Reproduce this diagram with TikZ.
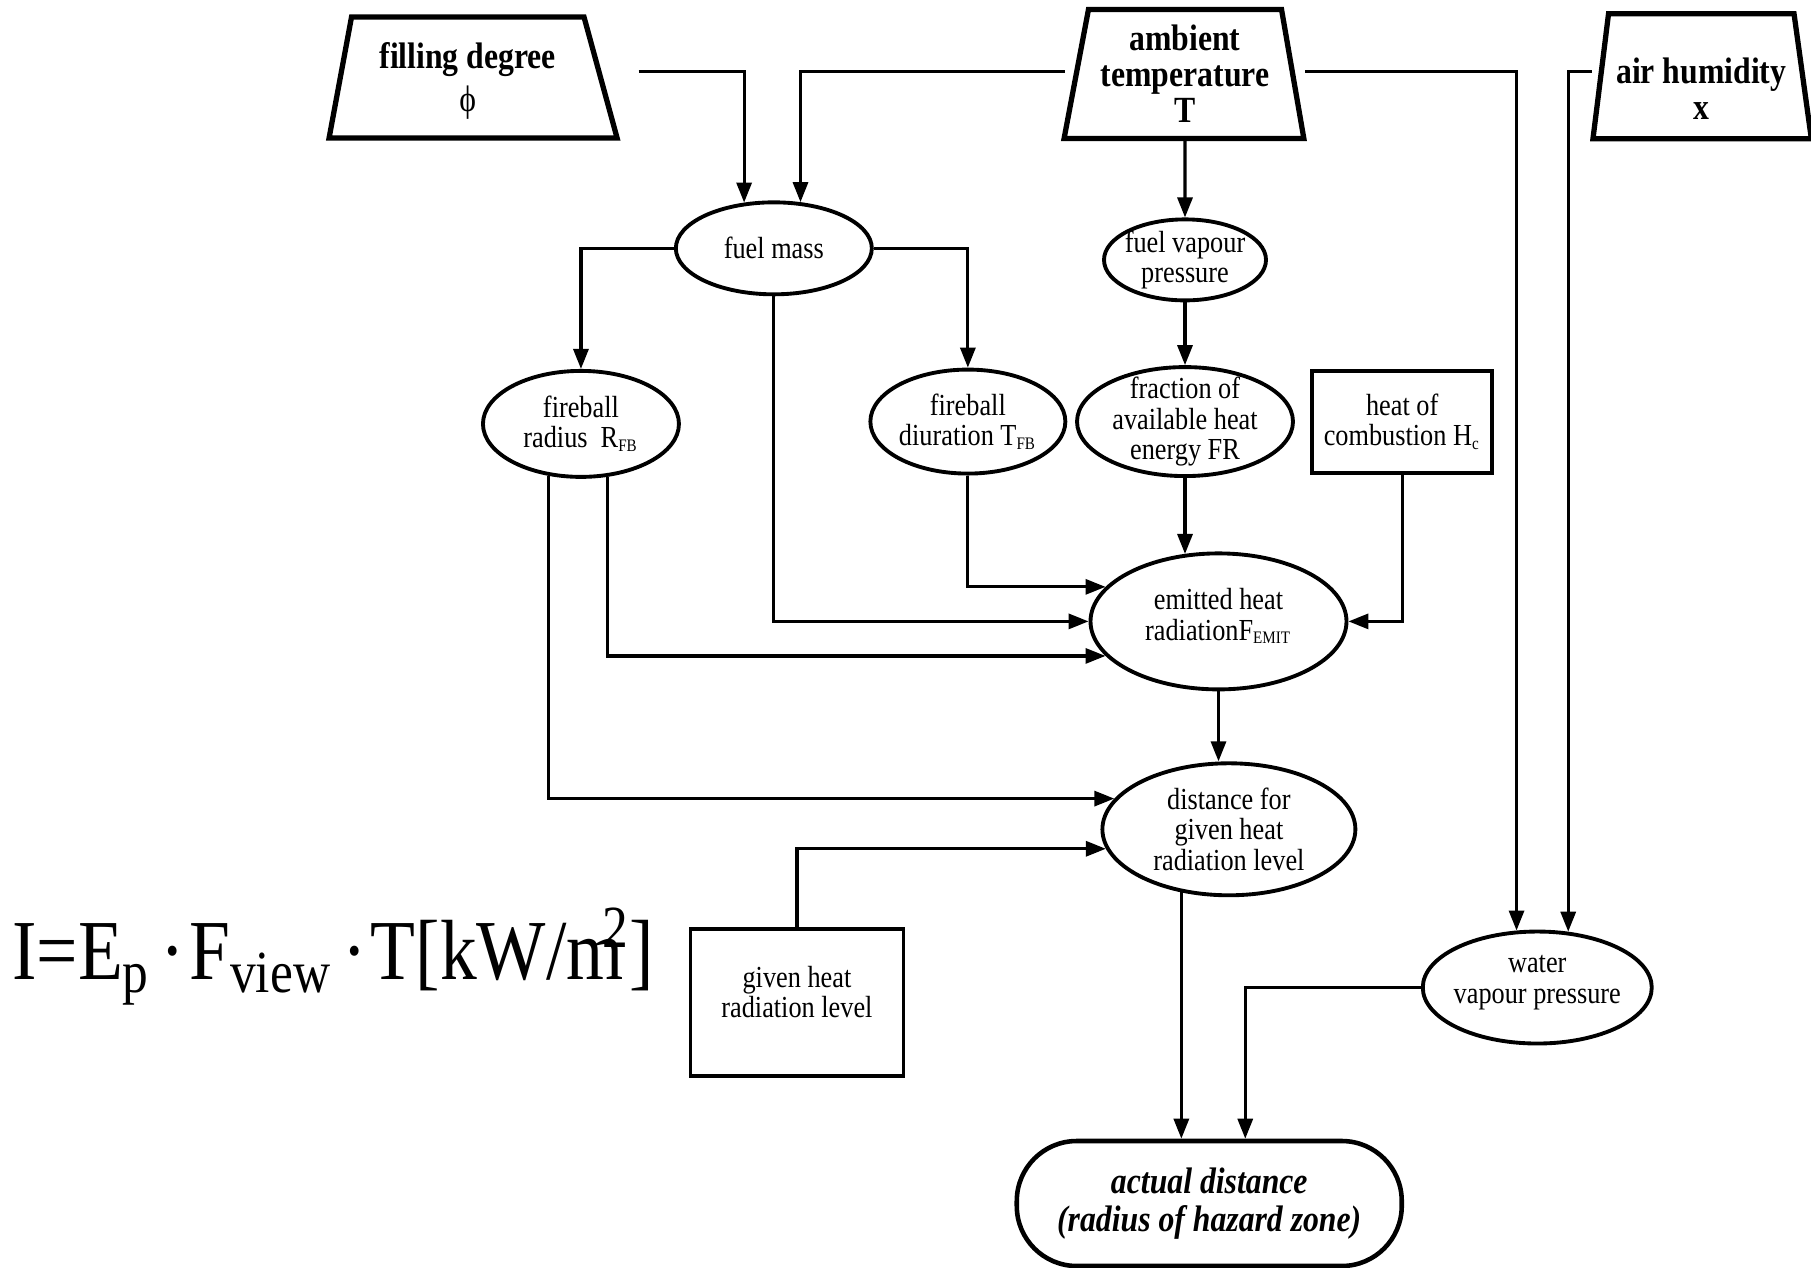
\documentclass[tikz,border=0pt]{standalone}
\usepackage{fontspec}
\setmainfont{Liberation Serif}[FakeStretch=0.86]
\usetikzlibrary{arrows.meta, shapes.geometric}

\begin{document}
\begin{tikzpicture}[x=0.01155cm, y=-0.01155cm, >={Triangle[length=2mm, width=1.5mm]},
    link/.style={->, line width=0.9pt},
    proc/.style={ellipse, draw, line width=1.1pt, inner sep=-3pt, align=center, font=\fontsize{8.7}{8.6}\selectfont},
    infobox/.style={rectangle, draw, line width=1.1pt, align=center, font=\fontsize{8.7}{8.6}\selectfont},
    inputbox/.style={trapezium, trapezium stretches=true, draw, line width=1.5pt, inner sep=1pt, align=center, font=\bfseries\fontsize{10.5}{10.2}\selectfont},
    outcome/.style={rectangle, rounded corners=0.6cm, draw, line width=1.3pt, align=center, font=\bfseries\itshape\fontsize{10.5}{10.8}\selectfont}]
    \useasboundingbox (0, 0) rectangle (1568, 1097);

    \node (filling) [inputbox, trapezium left angle=79, trapezium right angle=74, minimum width=2.89cm, minimum height=1.21cm] at (405, 67) {\rule{0pt}{9.5pt}filling degree\\[2pt]\mdseries ϕ};
    \node (ambient) [inputbox, trapezium left angle=78, trapezium right angle=79, minimum width=2.40cm, minimum height=1.29cm] at (1026, 64) {ambient\\temperature\\T};
    \node (humidity) [inputbox, trapezium left angle=81, trapezium right angle=80, minimum width=2.19cm, minimum height=1.25cm] at (1473, 66) {\rule{0pt}{14.5pt}air humidity\\x};

    \coordinate (fillout) at (553, 62);
    \coordinate (ambleft) at (922, 62);
    \coordinate (ambright) at (1130, 62);
    \coordinate (humleft) at (1378, 62);

    \node (fuelmass) [proc, minimum width=1.96cm, minimum height=0.92cm] at (670, 215) {fuel mass};
    \node (fuelvap) [proc, minimum width=1.62cm, minimum height=0.81cm] at (1026, 225) {fuel vapour\\pressure};
    \node (radius) [proc, minimum width=1.96cm, minimum height=1.06cm] at (503, 367) {fireball\\radius~~R\textsubscript{\tiny FB}};
    \node (duration) [proc, minimum width=1.95cm, minimum height=1.04cm] at (838, 365) {fireball\\diuration T\textsubscript{\tiny FB}};
    \node (fraction) [proc, minimum width=2.16cm, minimum height=1.09cm] at (1026, 365) {fraction of\\available heat\\energy FR};
    \node (combustion) [infobox, minimum width=1.74cm, minimum height=1.02cm] at (1214, 365) {heat of\\combustion H\textsubscript{\tiny c}};
    \node (emitted) [proc, minimum width=2.56cm, minimum height=1.36cm] at (1055, 538) {emitted heat\\radiationF\textsubscript{\tiny EMIT}\\[-4.6pt]};
    \node (distance) [proc, minimum width=2.53cm, minimum height=1.32cm] at (1064, 718) {distance for\\given heat\\radiation level};
    \node (level) [infobox, minimum width=2.13cm, minimum height=1.47cm] at (690, 868) {given heat\\radiation level\\[-2.6pt]};
    \node (water) [proc, minimum width=2.29cm, minimum height=1.12cm] at (1331, 855) {water\\vapour pressure\\[-4pt]};
    \node (actual) [outcome, minimum width=3.85cm, minimum height=1.25cm] at (1047, 1042) {actual distance\\(radius of hazard zone)};
    \node (formula) [anchor=west, inner sep=0pt, font=\fontsize{24.3}{24}\selectfont] at (10, 828) {I=E\textsubscript{p}\kern0.12em\textperiodcentered\kern0.05em F\textsubscript{view}\kern0.12em\textperiodcentered\kern0.05em T[kW/m\kern-0.25em\textsuperscript{2}]};

    \draw [link] (fillout) -| (fuelmass.123);
    \draw [link] (ambleft) -| (fuelmass.60);
    \draw [link] (ambient.south) -- (fuelvap.north);
    \draw [link] (ambright) -| (water.110);
    \draw [link] (humleft) -| (water.61);
    \draw [link] (fuelmass.west) -| (radius.north);
    \draw [link] (fuelmass.east) -| (duration.north);
    \draw [link] (fuelmass.south) |- (emitted.west);
    \draw [link] (fuelvap.south) -- (fraction.north);
    \draw [link] (fraction.south) -- (fraction.south |- emitted.117);
    \draw [link] (duration.south) |- (emitted.163);
    \draw [link] (radius.297) |- (emitted.197);
    \draw [link] (radius.238) |- (distance.165);
    \draw [link] (combustion.south) |- (emitted.east);
    \draw [link] (emitted.south) -- (emitted.south |- distance.north);
    \draw [link] (level.north) |- (distance.189);
    \draw [link] (distance.233) -- (distance.233 |- actual.north);
    \draw [link] (water.west) -| ([xshift=0.36cm]actual.north);
\end{tikzpicture}
\end{document}
